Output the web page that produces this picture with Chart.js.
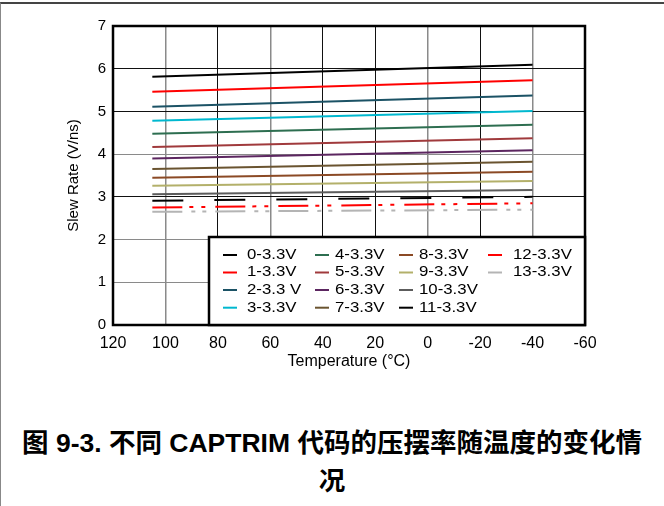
<!DOCTYPE html>
<html>
<head>
<meta charset="utf-8">
<script src="https://cdn.jsdelivr.net/npm/chart.js@4.4.0/dist/chart.umd.min.js"></script>
<style>
  html, body { margin: 0; padding: 0; background: #fff; }
  #page { position: relative; width: 664px; height: 506px; overflow: hidden; }
  #edge { position: absolute; left: 0; top: 2px; width: 664px; height: 504px;
          border-top: 2px solid #444; border-left: 1px solid #888; box-sizing: border-box; }
  #wrap { position: absolute; left: 0; top: 1px; width: 664px; height: 400px; }
  #caption { position: absolute; left: 0; top: 424px; width: 664px; text-align: center;
             font: bold 26.5px "Liberation Sans", "Noto Sans CJK SC", sans-serif;
             line-height: 38px; color: #000; }
</style>
</head>
<body>
<div id="page">
  <div id="edge"></div>
  <div id="wrap"><canvas id="myChart"></canvas></div>
  <div id="caption">图 9-3. 不同 CAPTRIM 代码的压摆率随温度的变化情<br>况</div>
</div>
<script>
// temperatures where each curve starts and ends
const temps = [105, -40];

const seriesNames = ['0-3.3V', '1-3.3V', '2-3.3 V', '3-3.3V', '4-3.3V', '5-3.3V', '6-3.3V',
                     '7-3.3V', '8-3.3V', '9-3.3V', '10-3.3V', '11-3.3V', '12-3.3V', '13-3.3V'];

// slew rate (V/ns) at 105 C and at -40 C
const slewRates = [
  [5.81, 6.09],
  [5.46, 5.73],
  [5.11, 5.37],
  [4.78, 5.01],
  [4.48, 4.69],
  [4.17, 4.37],
  [3.90, 4.09],
  [3.65, 3.82],
  [3.45, 3.59],
  [3.26, 3.37],
  [3.06, 3.16],
  [2.91, 3.00],
  [2.75, 2.85],
  [2.65, 2.70]
];

const xTicks = [120, 100, 80, 60, 40, 20, 0, -20, -40, -60];
const yTicks = [0, 1, 2, 3, 4, 5, 6, 7];

const lineColors = ['#000000', '#ff0000', '#1b5265', '#00b8cf', '#2d6e50', '#a03a3c', '#5c2660',
                    '#6a5430', '#8b4a25', '#b3b06a', '#5c5c5c', '#000000', '#ff0000', '#b4b4b4'];
const lineDashes = [[], [], [], [], [], [], [], [], [], [], [],
                    [31, 31], [30, 7, 4, 8, 4, 10], [30, 9, 4, 7, 4, 9]];

const grayX = [100, 60, 0, -40];
const grayY = [4, 2, 1];

Chart.defaults.font.family = '"Liberation Sans", Arial, sans-serif';
Chart.defaults.color = '#000';

const datasets = seriesNames.map(function (name, i) {
  return {
    label: name,
    data: temps.map(function (t, j) { return { x: t, y: slewRates[i][j] }; }),
    borderColor: lineColors[i],
    backgroundColor: lineColors[i],
    borderWidth: 2,
    borderDash: lineDashes[i],
    pointRadius: 0,
    fill: false
  };
});

// thick frame around the plot + boxed legend in 4 columns
const frameAndLegend = {
  id: 'frameAndLegend',
  afterDraw(chart) {
    const ctx = chart.ctx;
    const a = chart.chartArea;
    ctx.save();
    ctx.strokeStyle = '#000';
    ctx.lineWidth = 2.5;
    ctx.strokeRect(a.left, a.top, a.right - a.left, a.bottom - a.top);

    const w = 376, h = 88;
    const left = a.right - w, top = a.bottom - h;
    ctx.fillStyle = '#fff';
    ctx.fillRect(left, top, w, h);
    ctx.lineWidth = 2.5;
    ctx.strokeRect(left, top, w, h);

    const sampleX = [14, 106, 190, 279];
    const textX = [38, 126, 210, 304];
    const rowY = [18, 35.5, 53, 70.7];
    ctx.font = '14px "Liberation Sans", Arial, sans-serif';
    ctx.textBaseline = 'middle';
    ctx.textAlign = 'left';
    chart.data.datasets.forEach(function (ds, i) {
      const c = Math.floor(i / 4), r = i % 4;
      const y = top + rowY[r];
      ctx.strokeStyle = ds.borderColor;
      ctx.lineWidth = 2;
      ctx.setLineDash([]);
      ctx.beginPath();
      ctx.moveTo(left + sampleX[c], y);
      ctx.lineTo(left + sampleX[c] + 14, y);
      ctx.stroke();
      ctx.save();
      ctx.translate(left + textX[c], y);
      ctx.scale(1.2, 1);
      ctx.fillStyle = '#000';
      ctx.fillText(ds.label, 0, 0);
      ctx.restore();
    });
    ctx.restore();
  }
};

const ctx = document.getElementById('myChart').getContext('2d');
const myChart = new Chart(ctx, {
  type: 'line',
  data: { datasets: datasets },
  options: {
    responsive: true,
    maintainAspectRatio: false,
    animation: false,
    layout: { padding: { top: 25, right: 79, left: 0, bottom: 0 } },
    plugins: { legend: { display: false }, tooltip: { enabled: false } },
    scales: {
      x: {
        type: 'linear',
        reverse: true,
        min: -60,
        max: 120,
        afterBuildTicks(scale) { scale.ticks = xTicks.map(function (v) { return { value: v }; }); },
        ticks: { padding: 9, font: { size: 16 }, color: '#000' },
        grid: {
          drawTicks: false,
          color: function (c) { return grayX.includes(c.tick.value) ? '#8a8a8a' : '#111'; },
          lineWidth: function (c) { return grayX.includes(c.tick.value) ? 1.5 : 1; }
        },
        border: { display: false },
        title: { display: true, text: 'Temperature (°C)', font: { size: 16 }, color: '#000',
                 padding: { top: 0, bottom: 30 } },
        afterFit(scale) { scale.height = 76; }
      },
      y: {
        min: 0,
        max: 7,
        afterBuildTicks(scale) { scale.ticks = yTicks.map(function (v) { return { value: v }; }); },
        ticks: { padding: 7, font: { size: 15 }, color: '#000' },
        grid: {
          drawTicks: false,
          color: function (c) { return grayY.includes(c.tick.value) ? '#8a8a8a' : '#111'; },
          lineWidth: 1
        },
        border: { display: false },
        title: { display: true, text: 'Slew Rate (V/ns)', font: { size: 15 }, color: '#000',
                 padding: { top: 65, bottom: 0 } },
        afterFit(scale) { scale.width = 113; }
      }
    }
  },
  plugins: [frameAndLegend]
});
</script>
</body>
</html>
